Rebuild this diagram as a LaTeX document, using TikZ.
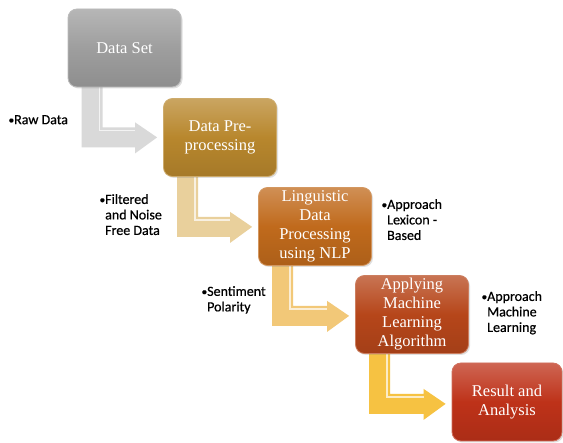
\documentclass[tikz,border=0pt]{standalone}
\usepackage{fontspec}
\setmainfont{Liberation Serif}
\newfontfamily\lblfont[FakeBold=0.6]{Carlito}
\usetikzlibrary{calc,shadows,backgrounds}
\definecolor{cA}{HTML}{9E9E9E}
\definecolor{cB}{HTML}{B8872D}
\definecolor{cC}{HTML}{C06A1C}
\definecolor{cD}{HTML}{B6461A}
\definecolor{cE}{HTML}{BE3219}
\definecolor{aA}{HTML}{D9D9D9}
\definecolor{aB}{HTML}{E9D09C}
\definecolor{aC}{HTML}{F2C878}
\definecolor{aD}{HTML}{F6C242}
\newcommand\bentarrow[3]{%
  \fill[#3] ($(#1.south west)+(14,-6)$) -- ($(#1.south west)+(35,-6)$)
    -- ($(#1.south west)+(35,40)$) -- ($(#2.west |- #1.south)+(-28,40)$)
    -- ($(#2.west |- #1.south)+(-28,35)$) -- ($(#2.west |- #1.south)+(-6,50)$)
    -- ($(#2.west |- #1.south)+(-28,66)$) -- ($(#2.west |- #1.south)+(-28,60)$)
    -- ($(#1.south west)+(14,60)$) -- cycle;
  \draw[gloss] ($(#1.south west)+(32,0)$) -- ($(#1.south west)+(32,43)$)
    -- ($(#2.west |- #1.south)+(-28,43)$);
}
\newcommand\bul{\llap{\raisebox{0.5pt}{\scalebox{0.8}{•}}}}
\begin{document}
\begin{tikzpicture}[x=1pt,y=-1pt,
  stage/.style={rectangle, rounded corners=9pt, minimum width=113pt,
    minimum height=78pt, inner sep=2pt, align=center, text=white,
    font=\fontsize{16.5}{19}\selectfont, draw=#1!70!white, line width=0.8pt,
    top color=#1!75!white, bottom color=#1!90!black, middle color=#1,
    drop shadow={opacity=0.25, shadow xshift=1.5pt, shadow yshift=-1.5pt}},
  note/.style={anchor=north west, inner sep=0pt, align=left,
    font=\lblfont\fontsize{14}{15.5}\selectfont, text=black},
  gloss/.style={draw=white, opacity=0.7, line width=1.5pt}
]
\useasboundingbox (0,0) rectangle (563,443);

\node[stage=cA] (b1) at (124.5,48) {Data Set};
\node[stage=cB] (b2) at (220,137.5) {Data Pre-\\processing};
\node[stage=cC] (b3) at (315,226.5) {Linguistic\\Data\\Processing\\using NLP};
\node[stage=cD] (b4) at (412,314.5) {Applying\\Machine\\Learning\\Algorithm};
\node[stage=cE, minimum width=110pt] (b5) at (507,402) {Result and\\Analysis};

\node[note] (n1) at (14,115) {\bul Raw Data};
\node[note] (n2) at (105,194) {\bul Filtered\\and Noise\\Free Data};
\node[note] (n3) at (387,199) {\bul Approach\\Lexicon -\\Based};
\node[note] (n4) at (207,286) {\bul Sentiment\\Polarity};
\node[note] (n5) at (487,291) {\bul Approach\\Machine\\Learning};

\begin{scope}[on background layer]
  \fill[white] (0,0) rectangle (563,443);
  \bentarrow{b1}{b2}{aA}
  \bentarrow{b2}{b3}{aB}
  \bentarrow{b3}{b4}{aC}
  \bentarrow{b4}{b5}{aD}
\end{scope}
\end{tikzpicture}
\end{document}
